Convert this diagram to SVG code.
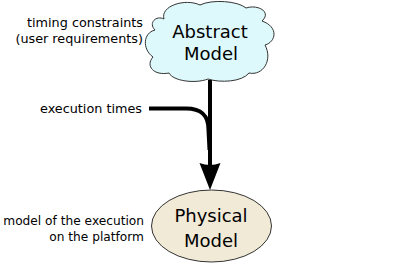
<svg xmlns="http://www.w3.org/2000/svg" width="415" height="264" viewBox="0 0 415 264">
<defs>
<style>
.lbl{font-family:"DejaVu Sans","Liberation Sans",sans-serif;font-size:12.8px;fill:#000;text-anchor:end}
.sm{font-size:12.2px}
.big{font-family:"DejaVu Sans","Liberation Sans",sans-serif;font-size:18px;fill:#000;text-anchor:middle}
.shape{stroke:#333;stroke-width:1}
.conn{fill:none;stroke:#000;stroke-width:4}
</style>
</defs>
<rect width="415" height="264" fill="#fff"/>
<g id="connectors">
<path class="conn" d="M210,80 L210,166"/>
<path class="conn" d="M149,108.5 L186,108.5 C201,108.5 208.5,115 208.5,130 L209.5,150"/>
<path d="M199.5,163 Q210,167 220.5,163 L210,190 Z" fill="#000"/>
</g>
<g id="abstract-model">
<path class="shape" fill="#def9fb" d="M164,19 C160,6 185,-2 200,5 C212,-1 238,1 246,8 C258,4 272,12 262,21 C279,27 276,42 265,45 C273,60 263,76 249,73 C242,82 220,83 208,79 C195,84 173,81 169,73 C154,76 145,66 153,57 C142,49 143,33 155,30 C148,23 156,15 164,19 Z"/>
<text class="big" x="210" y="37.5">Abstract</text>
<text class="big" x="211" y="60">Model</text>
</g>
<g id="physical-model">
<ellipse class="shape" fill="#f1ead6" cx="211.5" cy="226" rx="60" ry="36"/>
<text class="big" x="211" y="222">Physical</text>
<text class="big" x="211" y="247">Model</text>
</g>
<g id="labels">
<text class="lbl" x="143" y="27">timing constraints</text>
<text class="lbl" x="143" y="43">(user requirements)</text>
<text class="lbl" x="142" y="112.5">execution times</text>
<text class="lbl sm" x="144" y="225">model of the execution</text>
<text class="lbl sm" x="144" y="241">on the platform</text>
</g>
</svg>
